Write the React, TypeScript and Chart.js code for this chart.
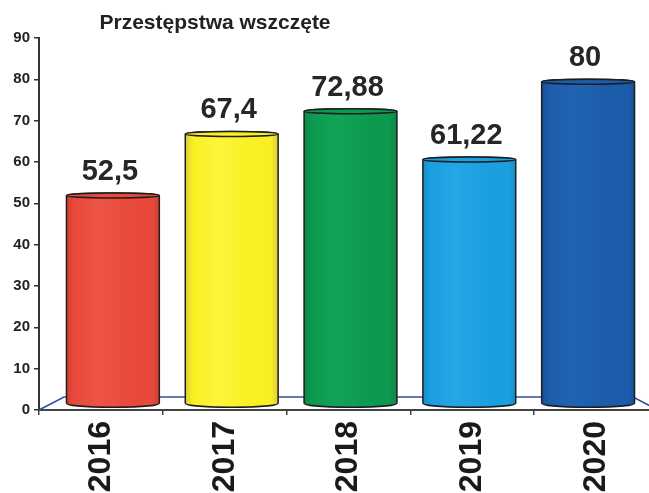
import React, { useEffect, useRef } from "react";
import { Chart, registerables } from "chart.js";

Chart.register(...registerables);

const TITLE = "Przestępstwa wszczęte";
const categories = ["2016", "2017", "2018", "2019", "2020"];
const values = [52.5, 67.4, 72.88, 61.22, 80];
const yMin = 0;
const yMax = 90;
const yStep = 10;
const barBase = ["#e8493a", "#f9f023", "#0d9a50", "#1a9fe0", "#1b5dab"];
const barLight = ["#ec5445", "#fcf53c", "#12a257", "#25a6e6", "#2063b2"];
const barDark = ["#d23e30", "#dccb3a", "#0b8646", "#168dcb", "#17519a"];

const FONT = "'Liberation Sans', Arial, sans-serif";
const DEPTH_X = 25;
const DEPTH_Y = 13;

const fmt = (v: number) => String(v).replace(".", ",");

const cylinderPlugin = {
  id: "cylinders",
  beforeDatasetsDraw(chart: any) {
    const { ctx, chartArea: a } = chart;
    ctx.save();
    ctx.strokeStyle = "#2f4fa0";
    ctx.lineWidth = 1.6;
    ctx.beginPath();
    ctx.moveTo(a.left, a.bottom);
    ctx.lineTo(a.left + DEPTH_X, a.bottom - DEPTH_Y);
    ctx.lineTo(a.right - DEPTH_X, a.bottom - DEPTH_Y);
    ctx.lineTo(a.right, a.bottom);
    ctx.stroke();
    ctx.restore();
  },
  afterDatasetsDraw(chart: any) {
    const { ctx, chartArea: a } = chart;
    const meta = chart.getDatasetMeta(0);
    const cx = (a.left + a.right) / 2;
    const w = a.right - a.left;
    const s = (w - DEPTH_X) / w;
    meta.data.forEach((el: any, i: number) => {
      const { x, y, base, width } = el.getProps(["x", "y", "base", "width"], true);
      const xc = cx + (x - cx) * s + 2;
      const hw = width / 2;
      const xl = xc - hw;
      const xr = xc + hw;
      const ryT = 2.5;
      const ryB = 4;
      const top = y;
      const bottom = base - 6;
      const g = ctx.createLinearGradient(xl, 0, xr, 0);
      g.addColorStop(0, barDark[i]);
      g.addColorStop(0.08, barBase[i]);
      g.addColorStop(0.35, barLight[i]);
      g.addColorStop(0.7, barBase[i]);
      g.addColorStop(0.92, barBase[i]);
      g.addColorStop(1, barDark[i]);
      ctx.save();
      ctx.beginPath();
      ctx.moveTo(xl, top + ryT);
      ctx.lineTo(xl, bottom);
      ctx.ellipse(xc, bottom, hw, ryB, 0, Math.PI, 0, true);
      ctx.lineTo(xr, top + ryT);
      ctx.ellipse(xc, top + ryT, hw, ryT, 0, 0, Math.PI, true);
      ctx.closePath();
      ctx.fillStyle = g;
      ctx.fill();
      ctx.strokeStyle = "#1e1e1e";
      ctx.lineWidth = 1.5;
      ctx.stroke();
      ctx.beginPath();
      ctx.ellipse(xc, top + ryT, hw, ryT, 0, 0, Math.PI * 2);
      ctx.fillStyle = barBase[i];
      ctx.fill();
      ctx.stroke();
      ctx.fillStyle = "#262626";
      ctx.font = `bold 29px ${FONT}`;
      ctx.textAlign = "center";
      ctx.textBaseline = "alphabetic";
      ctx.fillText(fmt(values[i]), xc - 3, top - 13);
      ctx.restore();
    });
  },
  afterDraw(chart: any) {
    const { ctx } = chart;
    ctx.save();
    ctx.fillStyle = "#222";
    ctx.font = `bold 21px ${FONT}`;
    ctx.textAlign = "center";
    ctx.textBaseline = "alphabetic";
    ctx.fillText(TITLE, 215, 29);
    ctx.restore();
  },
};

export default function App() {
  const ref = useRef<HTMLCanvasElement | null>(null);
  useEffect(() => {
    if (!ref.current) return;
    const chart = new Chart(ref.current, {
      type: "bar",
      data: {
        labels: categories,
        datasets: [
          {
            data: values,
            backgroundColor: "rgba(0,0,0,0)",
            borderWidth: 0,
            barPercentage: 0.75,
            categoryPercentage: 1,
          },
        ],
      },
      options: {
        responsive: false,
        animation: false,
        layout: { padding: { top: 38, right: 12, left: 0, bottom: 0 } },
        plugins: {
          legend: { display: false },
          tooltip: { enabled: false },
          title: { display: false },
        },
        scales: {
          x: {
            grid: {
              display: true,
              drawOnChartArea: false,
              tickLength: 5,
              color: "#444",
              lineWidth: 1.5,
              offset: true,
            },
            border: { display: true, color: "#444", width: 2 },
            ticks: {
              font: { family: FONT, size: 32, weight: "bold" },
              color: "#1a1a1a",
              maxRotation: 90,
              minRotation: 90,
              padding: 6,
            },
            afterFit: (sc: any) => {
              sc.height = 83;
            },
          },
          y: {
            min: yMin,
            max: yMax,
            ticks: {
              stepSize: yStep,
              font: { family: FONT, size: 15, weight: "bold" },
              color: "#222",
              padding: 4,
            },
            grid: {
              drawOnChartArea: false,
              tickLength: 5,
              color: "#333",
              lineWidth: 1.5,
            },
            border: { display: true, color: "#333", width: 2 },
            afterFit: (sc: any) => {
              sc.width = 39;
            },
          },
        },
      },
      plugins: [cylinderPlugin],
    });
    return () => chart.destroy();
  }, []);
  return (
    <div
      style={{
        position: "fixed",
        left: 0,
        top: 0,
        width: 649,
        height: 493,
        overflow: "hidden",
        background: "#fff",
      }}
    >
      <canvas ref={ref} width={670} height={493} style={{ display: "block" }} />
    </div>
  );
}
